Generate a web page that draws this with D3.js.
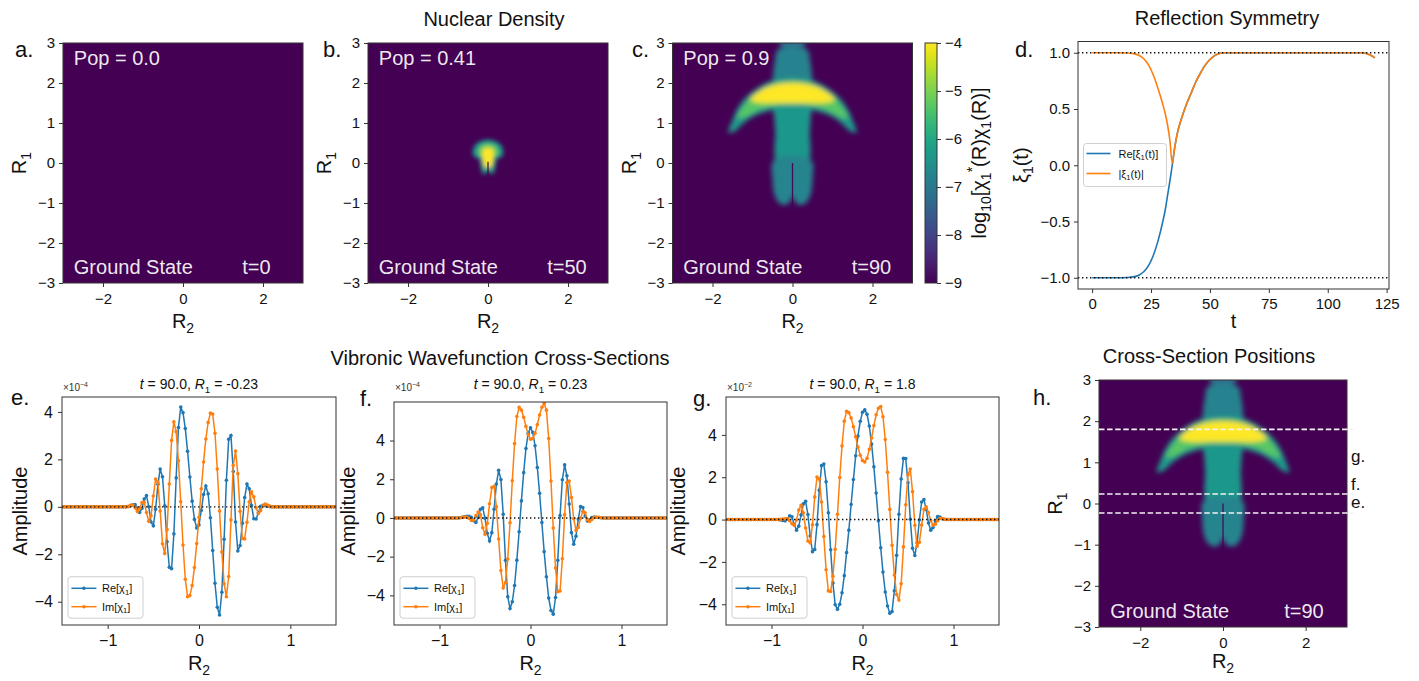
<!DOCTYPE html>
<html>
<head>
<meta charset="utf-8">
<script src="https://cdn.jsdelivr.net/npm/d3@7"></script>
<style>
  body { margin: 0; background: #fff; }
  text { font-family: "Liberation Sans", Arial, Helvetica, sans-serif; }
</style>
</head>
<body>
<svg id="fig" width="1419" height="681"></svg>
<script>
// ---------- values ----------

// d. reflection symmetry xi_1(t)
const tD    = [0, 5, 10, 15, 18, 20, 22, 24, 26, 28, 30, 31, 32, 33, 34, 35, 36, 38, 40, 42,
               44, 46, 48, 50, 52, 54, 56, 60, 70, 80, 90, 100, 110, 114, 116, 118, 120];
const absXi = [1, 1, 1, 0.998, 0.99, 0.975, 0.945, 0.89, 0.8, 0.68, 0.54, 0.46, 0.36, 0.22, 0.02, 0.15, 0.27, 0.42, 0.54, 0.64,
               0.74, 0.82, 0.89, 0.94, 0.975, 0.993, 1, 1, 1, 1, 1, 1, 1, 1, 0.995, 0.98, 0.955];
const reXi  = [-1, -1, -1, -0.998, -0.99, -0.975, -0.945, -0.89, -0.8, -0.67, -0.5, -0.4, -0.27, -0.14, 0, 0.15, 0.27, 0.42, 0.54, 0.64,
               0.74, 0.82, 0.89, 0.94, 0.975, 0.993, 1, 1, 1, 1, 1, 1, 1, 1, 0.995, 0.98, 0.955];

// e-g. cross sections of chi_1 at t = 90, R2 from -1.5 to 1.5 every 0.025
const r2Grid = d3.range(121).map(i => +(-1.5 + i * 0.025).toFixed(3));
const reE = [
  0,0,0,0,0,0,0, 0,0,0,0,0,0,0, 0,0,0,0,0,0,0, 0,0,0,0,0,0,0,
  0, 0.01, 0.05, 0.09, 0.10, -0.05, -0.24, -0.07,
  0.33, 0.48, 0.01, -0.64, -0.80, -0.10, 0.95, 1.59,
  1.27, 0.04, -1.47, -2.55, -2.61, -1.14, 1.22, 3.34,
  4.21, 3.97, 3.30, 2.34, 1.26, 0.24, -0.53, -0.89,
  -0.76, -0.15, 0.52, 0.88, 0.55, -0.46, -1.84, -3.22,
  -4.23, -4.56, -3.60, -1.37, 1.12, 2.85, 3.01, 1.49,
  -0.64, -1.86, -1.63, -0.69, 0.39, 0.96, 0.76, 0.06,
  -0.50, -0.51, -0.25, 0.02, 0.07, 0.05, 0.03, 0.01,
  0,
  0,0,0,0,0,0,0, 0,0,0,0,0,0,0, 0,0,0,0,0,0,0, 0,0,0,0,0,0,0];
const imE = [
  0,0,0,0,0,0,0, 0,0,0,0,0,0,0, 0,0,0,0,0,0,0, 0,0,0,0,0,0,0,
  0, 0.02, 0.06, 0.08, -0.04, -0.20, -0.06, 0.18,
  0.19, -0.24, -0.61, -0.38, 0.46, 1.17, 1.04, -0.18,
  -1.56, -1.97, -0.96, 0.96, 2.80, 3.58, 3.17, 1.94,
  0.21, -1.61, -3.05, -3.79, -3.74, -3.32, -2.56, -1.55,
  -0.44, 0.76, 1.89, 2.86, 3.56, 3.95, 3.91, 3.10,
  1.59, -0.18, -1.90, -3.24, -3.79, -2.94, -0.55, 1.75,
  2.35, 1.40, -0.19, -1.33, -1.35, -0.65, 0.21, 0.63,
  0.42, -0.04, -0.28, -0.16, 0.04, 0.12, 0.08, 0.03,
  0,
  0,0,0,0,0,0,0, 0,0,0,0,0,0,0, 0,0,0,0,0,0,0, 0,0,0,0,0,0,0];
const reF = [
  0,0,0,0,0,0,0, 0,0,0,0,0,0,0, 0,0,0,0,0,0,0, 0,0,0,0,0,0,0,
  0, 0.01, 0.03, 0.06, 0.08, 0.09, 0.03, -0.14,
  -0.23, 0.02, 0.45, 0.52, -0.01, -0.79, -1.19, -0.76,
  0.45, 1.75, 2.46, 1.98, 0.19, -2.19, -4.07, -4.68,
  -4.33, -3.49, -2.18, -0.71, 0.88, 2.34, 3.59, 4.38,
  4.66, 4.42, 3.73, 2.61, 1.27, -0.24, -1.74, -3.04,
  -4.14, -4.78, -4.97, -4.11, -2.19, 0.13, 1.97, 2.74,
  2.18, 0.72, -0.76, -1.36, -0.94, -0.06, 0.59, 0.54,
  0.10, -0.16, -0.09, 0.02, 0.05, 0.04, 0.02, 0.01,
  0,
  0,0,0,0,0,0,0, 0,0,0,0,0,0,0, 0,0,0,0,0,0,0, 0,0,0,0,0,0,0];
const imF = [
  0,0,0,0,0,0,0, 0,0,0,0,0,0,0, 0,0,0,0,0,0,0, 0,0,0,0,0,0,0,
  0, 0.01, 0.03, 0.04, 0.05, -0.02, -0.13, -0.10,
  0.12, 0.31, 0.17, -0.51, -0.84, -0.29, 0.73, 1.57,
  1.63, 0.58, -1.09, -2.72, -3.61, -3.34, -2.12, -0.25,
  1.92, 3.84, 5.24, 5.71, 5.57, 5.20, 4.73, 4.30,
  4.07, 4.10, 4.38, 4.82, 5.32, 5.72, 5.91, 5.57,
  4.10, 1.91, -0.52, -2.59, -3.81, -3.77, -2.11, 0.17,
  1.83, 1.91, 1.06, -0.04, -0.65, -0.49, -0.02, 0.35,
  0.27, -0.09, -0.18, -0.08, 0.03, 0.04, 0.03, 0.01,
  0,
  0,0,0,0,0,0,0, 0,0,0,0,0,0,0, 0,0,0,0,0,0,0, 0,0,0,0,0,0,0];
const reG = [
  0,0,0,0,0,0, 0,0,0,0,0,0, 0,0,0,0,0,0, 0,0,0,0,0,0,
  -0.02, -0.04, -0.06, 0.03, 0.18, 0.13, -0.24, -0.50,
  -0.31, 0.22, 0.74, 0.86, 0.24, -0.78, -1.52, -1.41,
  -0.24, 1.39, 2.55, 2.62, 1.79, 0.32, -1.43, -3.00,
  -4.02, -4.24, -4.00, -3.46, -2.65, -1.56, -0.50, 0.71,
  1.89, 3.01, 3.95, 4.64, 5.07, 5.19, 4.97, 4.42,
  3.57, 2.49, 1.25, -0.06, -1.33, -2.48, -3.42, -4.08,
  -4.43, -4.34, -3.36, -1.69, 0.25, 1.92, 2.89, 2.88,
  1.74, 0.02, -1.36, -1.70, -1.09, -0.02, 0.83, 0.94,
  0.48, -0.16, -0.50, -0.38, -0.06, 0.14, 0.12, 0.04,
  0,
  0,0,0,0,0,0, 0,0,0,0,0,0, 0,0,0,0,0,0, 0,0,0,0,0,0];
const imG = [
  0,0,0,0,0,0, 0,0,0,0,0,0, 0,0,0,0,0,0, 0,0,0,0,0,0,
  0.01, 0.03, 0.04, 0.05, -0.05, -0.20, -0.27, -0.02,
  0.45, 0.67, 0.32, -0.40, -1.01, -1.10, -0.25, 1.07,
  2.01, 1.91, 0.83, -0.80, -2.37, -3.37, -3.40, -2.68,
  -1.40, 0.25, 1.99, 3.48, 4.65, 5.11, 5.05, 4.80,
  4.39, 3.91, 3.43, 3.04, 2.79, 2.72, 2.90, 3.32,
  3.85, 4.44, 4.95, 5.26, 5.34, 4.86, 3.78, 2.23,
  0.48, -1.21, -2.62, -3.54, -3.80, -3.03, -1.29, 0.70,
  2.12, 2.39, 1.32, -0.27, -1.26, -1.07, -0.26, 0.48,
  0.60, 0.33, -0.05, -0.26, -0.22, -0.05, 0.05, 0.05,
  0.02,
  0,0,0,0,0,0, 0,0,0,0,0,0, 0,0,0,0,0,0, 0,0,0,0,0,0];

// a-c, h. log10 density, outlines in (R2, R1) with the level inside each
const dome50      = [[-0.38,0.22],[-0.33,0.44],[-0.17,0.55],[0,0.58],[0.17,0.55],[0.33,0.44],[0.38,0.22],[0.26,0.11],[0,0.09],[-0.26,0.11]];
const domeCore50  = [[-0.26,0.25],[-0.19,0.41],[0,0.48],[0.19,0.41],[0.26,0.25],[0.15,0.15],[-0.15,0.15]];
const legs50      = [[-0.17,0.15],[0.17,0.15],[0.18,-0.1],[0.11,-0.28],[0.02,-0.22],[-0.02,-0.22],[-0.11,-0.28],[-0.18,-0.1]];
const core50      = [[-0.12,0.35],[0.12,0.35],[0.13,0.1],[0.09,-0.07],[0,-0.11],[-0.09,-0.07],[-0.13,0.1]];
const layers50 = [
  { level: -6.3, pts: dome50 },
  { level: -6.1, pts: legs50 },
  { level: -5.2, pts: domeCore50 },
  { level: -4.0, pts: core50 }
];
const split50 = [[0.03, -0.33]];

const cap90       = [[-0.3,3.12],[0.3,3.12],[0.3,2.93],[-0.3,2.93]];
const colTop90    = [[-0.36,2.84],[0.36,2.84],[0.44,2.55],[0.48,2.25],[0.46,1.9],[-0.46,1.9],[-0.48,2.25],[-0.44,2.55]];
const colLow90    = [[-0.45,1.5],[0.45,1.5],[0.45,1.1],[0.43,0.7],[0.45,0.35],[0.4,0.05],[-0.4,0.05],[-0.45,0.35],[-0.43,0.7],[-0.45,1.1]];
const legL90      = [[-0.03,0.15],[-0.03,-0.9],[-0.15,-1.04],[-0.32,-1.01],[-0.45,-0.8],[-0.5,-0.4],[-0.48,0.05]];
const legR90      = [[0.03,0.15],[0.48,0.05],[0.5,-0.4],[0.45,-0.8],[0.32,-1.01],[0.15,-1.04],[0.03,-0.9]];
const arcEdge90   = [[-1.6,0.76],[-1.52,1.02],[-1.36,1.38],[-1.1,1.7],[-0.72,1.97],[-0.36,2.1],[0,2.13],[0.36,2.1],[0.72,1.97],
                     [1.1,1.7],[1.36,1.38],[1.52,1.02],[1.6,0.76],[1.44,0.8],[1.22,1.0],[0.95,1.18],[0.6,1.3],[0.3,1.36],
                     [0,1.37],[-0.3,1.36],[-0.6,1.3],[-0.95,1.18],[-1.22,1.0],[-1.44,0.8]];
const arcMid90    = [[-1.38,1.12],[-1.2,1.45],[-0.9,1.76],[-0.46,1.98],[0,2.04],[0.46,1.98],[0.9,1.76],[1.2,1.45],[1.38,1.12],
                     [1.15,1.17],[0.82,1.34],[0.4,1.44],[0,1.46],[-0.4,1.44],[-0.82,1.34],[-1.15,1.17]];
const arcCore90   = [[-1.05,1.58],[-0.78,1.82],[-0.4,1.96],[0,2.0],[0.4,1.96],[0.78,1.82],[1.05,1.58],[0.78,1.5],[0.4,1.5],
                     [0,1.5],[-0.4,1.5],[-0.78,1.5]];
const layers90 = [
  { level: -7.2, pts: cap90 },
  { level: -6.8, pts: colTop90 },
  { level: -6.35, pts: colLow90 },
  { level: -6.75, pts: legL90 },
  { level: -6.75, pts: legR90 },
  { level: -6.3, pts: arcEdge90 },
  { level: -5.3, pts: arcMid90 },
  { level: -4.0, pts: arcCore90 }
];
const split90 = [[0.0, -1.1]];

const popVals = ["0.0", "0.41", "0.9"];
const snapTimes = [0, 50, 90];
const cbTicks = [-9, -8, -7, -6, -5, -4];
const sliceR1 = [-0.23, 0.23, 1.8];
const sliceTags = ["e.", "f.", "g."];

// ---------- drawing ----------
const FONT = '"Liberation Sans", Arial, Helvetica, sans-serif';
const BLUE = "#1f77b4", ORANGE = "#ff7f0e";
const svg = d3.select("#fig");
const defs = svg.append("defs");
const cmap = d3.scaleSequential(d3.interpolateViridis).domain([-9, -4]).clamp(true);

defs.append("filter").attr("id", "soft")
  .attr("x", "-50%").attr("y", "-50%").attr("width", "200%").attr("height", "200%")
  .append("feGaussianBlur").attr("stdDeviation", 2.8);
defs.append("filter").attr("id", "softB")
  .attr("x", "-60%").attr("y", "-60%").attr("width", "220%").attr("height", "220%")
  .append("feGaussianBlur").attr("stdDeviation", 2.0);

function label(px, py, parts, fs, opt = {}) {
  const t = svg.append("text")
    .attr("transform", `translate(${px},${py})` + (opt.rotate ? ` rotate(${opt.rotate})` : ""))
    .attr("text-anchor", opt.anchor || "start")
    .attr("font-size", fs)
    .attr("fill", opt.fill || "#111");
  if (opt.opacity) t.attr("fill-opacity", opt.opacity);
  if (typeof parts === "string") parts = [[parts]];
  let off = 0;
  parts.forEach(([s, m]) => {
    const target = m === "sub" ? 0.25 * fs : m === "sup" ? -0.45 * fs : 0;
    const size = (m === "sub" || m === "sup") ? 0.7 * fs : fs;
    t.append("tspan").attr("dy", (target - off).toFixed(2)).attr("font-size", size)
      .attr("font-style", m === "i" ? "italic" : null).text(s);
    off = target;
  });
  return t;
}

function styleAxis(ax, fs) {
  ax.attr("font-family", FONT).attr("font-size", fs);
  ax.select(".domain").remove();
  ax.selectAll(".tick line").attr("stroke", "#333");
  ax.selectAll(".tick text").attr("fill", "#111");
}
function bottomAxis(scale, yPos, vals, fmt, fs, pad) {
  const ax = svg.append("g").attr("transform", `translate(0,${yPos})`)
    .call(d3.axisBottom(scale).tickValues(vals).tickFormat(fmt).tickSize(4).tickPadding(pad));
  styleAxis(ax, fs);
}
function leftAxis(scale, xPos, vals, fmt, fs, pad) {
  const ax = svg.append("g").attr("transform", `translate(${xPos},0)`)
    .call(d3.axisLeft(scale).tickValues(vals).tickFormat(fmt).tickSize(4).tickPadding(pad));
  styleAxis(ax, fs);
}
function frame(x0, y0, x1, y1) {
  svg.append("rect").attr("x", x0).attr("y", y0).attr("width", x1 - x0).attr("height", y1 - y0)
    .attr("fill", "none").attr("stroke", "#333").attr("stroke-width", 1);
}
function clipRect(id, x0, y0, x1, y1) {
  defs.append("clipPath").attr("id", id).append("rect")
    .attr("x", x0).attr("y", y0).attr("width", x1 - x0).attr("height", y1 - y0);
  return `url(#${id})`;
}

// density panels
function drawHeat(p) {
  const x = d3.scaleLinear().domain([-3, 3]).range([p.x0, p.x1]);
  const y = d3.scaleLinear().domain([-3, 3]).range([p.y1, p.y0]);
  const g = svg.append("g").attr("clip-path", clipRect("clip-" + p.id, p.x0, p.y0, p.x1, p.y1));
  g.append("rect").attr("x", p.x0).attr("y", p.y0)
    .attr("width", p.x1 - p.x0).attr("height", p.y1 - p.y0).attr("fill", cmap(-9));

  const outline = d3.line().x(d => x(d[0])).y(d => y(d[1]))
    .curve(d3.curveCatmullRomClosed.alpha(0.5));
  g.append("g").attr("filter", `url(#${p.blur})`)
    .selectAll("path").data(p.layers).join("path")
    .attr("d", d => outline(d.pts))
    .attr("fill", d => cmap(d.level));

  g.selectAll(".split").data(p.splits).join("line")
    .attr("x1", x(0)).attr("x2", x(0))
    .attr("y1", d => y(d[0])).attr("y2", d => y(d[1]))
    .attr("stroke", cmap(-9)).attr("stroke-width", 1.3).attr("stroke-opacity", 0.9);

  frame(p.x0, p.y0, p.x1, p.y1);
  bottomAxis(x, p.y1, [-2, 0, 2], d3.format("d"), 15, 6);
  leftAxis(y, p.x0, [-3, -2, -1, 0, 1, 2, 3], d3.format("d"), 15, 4);
  label((p.x0 + p.x1) / 2, p.y1 + p.xlabOff, [["R"], ["2", "sub"]], 20, { anchor: "middle" });
  label(p.x0 - 37, (p.y0 + p.y1) / 2, [["R"], ["1", "sub"]], 20, { anchor: "middle", rotate: -90 });

  if (p.pop !== null) label(x(-2.73), y(2.45), "Pop = " + p.pop, 20, { fill: "#fff", opacity: 0.93 });
  label(x(-2.73), y(-2.77), "Ground State", 20, { fill: "#fff", opacity: 0.93 });
  label(x(1.48), y(-2.77), "t=" + p.time, 20, { fill: "#fff", opacity: 0.93 });
  return { x, y };
}

const heatA = drawHeat({ id: "a", x0: 63, x1: 303, y0: 43, y1: 283, layers: [], splits: [], blur: "soft",
  pop: popVals[0], time: snapTimes[0], xlabOff: 45 });
const heatB = drawHeat({ id: "b", x0: 368, x1: 608, y0: 43, y1: 283, layers: layers50, splits: split50, blur: "softB",
  pop: popVals[1], time: snapTimes[1], xlabOff: 45 });
const heatC = drawHeat({ id: "c", x0: 672.5, x1: 912.5, y0: 43, y1: 283, layers: layers90, splits: split90, blur: "soft",
  pop: popVals[2], time: snapTimes[2], xlabOff: 45 });
const heatH = drawHeat({ id: "h", x0: 1099, x1: 1347, y0: 380, y1: 627, layers: layers90, splits: split90, blur: "soft",
  pop: null, time: snapTimes[2], xlabOff: 41 });

// colorbar
const grad = defs.append("linearGradient").attr("id", "viridisGrad")
  .attr("x1", 0).attr("y1", 1).attr("x2", 0).attr("y2", 0);
d3.range(0, 1.0001, 0.05).forEach(t => grad.append("stop").attr("offset", t).attr("stop-color", d3.interpolateViridis(t)));
const cbY = d3.scaleLinear().domain([-9, -4]).range([283, 43]);
svg.append("rect").attr("x", 925).attr("y", 43).attr("width", 12).attr("height", 240)
  .attr("fill", "url(#viridisGrad)").attr("stroke", "#333").attr("stroke-width", 1);
const cbAx = svg.append("g").attr("transform", "translate(937,0)")
  .call(d3.axisRight(cbY).tickValues(cbTicks).tickFormat(d3.format("d")).tickSize(4).tickPadding(4));
styleAxis(cbAx, 15);
label(986, 163, [["log"], ["10", "sub"], ["[χ"], ["1", "sub"], ["*", "sup"], ["(R)χ"], ["1", "sub"], ["(R)]"]], 20,
  { anchor: "middle", rotate: -90 });

// h. cut positions
sliceR1.forEach(r => {
  svg.append("line")
    .attr("x1", heatH.x(-3)).attr("x2", heatH.x(3.15))
    .attr("y1", heatH.y(r)).attr("y2", heatH.y(r))
    .attr("stroke", "#f2f2f2").attr("stroke-width", 1.6).attr("stroke-dasharray", "5.5,2.6");
});
const tagY = { "e.": 508, "f.": 490, "g.": 462 };
sliceTags.forEach(s => label(1351, tagY[s], s, 17));

// d. reflection symmetry
{
  const x0 = 1078, x1 = 1389, y0 = 41.5, y1 = 289;
  const x = d3.scaleLinear().domain([-6, 126]).range([x0, x1]);
  const y = d3.scaleLinear().domain([-1.1, 1.1]).range([y1, y0]);
  const g = svg.append("g").attr("clip-path", clipRect("clip-d", x0, y0, x1, y1));
  const line = d3.line().x((d, i) => x(tD[i])).y(d => y(d)).curve(d3.curveMonotoneX);
  g.append("path").datum(reXi).attr("d", line).attr("fill", "none").attr("stroke", BLUE).attr("stroke-width", 1.6);
  g.append("path").datum(absXi).attr("d", line).attr("fill", "none").attr("stroke", ORANGE).attr("stroke-width", 1.6);
  [1, -1].forEach(v => g.append("line").attr("x1", x0).attr("x2", x1).attr("y1", y(v)).attr("y2", y(v))
    .attr("stroke", "#111").attr("stroke-width", 1.4).attr("stroke-dasharray", "1.4,2.6"));
  frame(x0, y0, x1, y1);
  bottomAxis(x, y1, [0, 25, 50, 75, 100, 125], d3.format("d"), 15, 5);
  leftAxis(y, x0, [-1, -0.5, 0, 0.5, 1], d3.format(".1f"), 15, 4);
  label((x0 + x1) / 2, 328, "t", 20, { anchor: "middle" });
  label(1028, (y0 + y1) / 2, [["ξ"], ["1", "sub"], ["(t)"]], 20, { anchor: "middle", rotate: -90 });

  const lx = 1083.5, ly = 143.5;
  svg.append("rect").attr("x", lx).attr("y", ly).attr("width", 83).attr("height", 43).attr("rx", 3)
    .attr("fill", "#fff").attr("fill-opacity", 0.85).attr("stroke", "#d0d0d0");
  [[BLUE, [["Re[ξ"], ["1", "sub"], ["(t)]"]]], [ORANGE, [["|ξ"], ["1", "sub"], ["(t)|"]]]].forEach(([c, txt], i) => {
    const yy = ly + 10 + i * 20;
    svg.append("line").attr("x1", lx + 3).attr("x2", lx + 27).attr("y1", yy).attr("y2", yy)
      .attr("stroke", c).attr("stroke-width", 1.6);
    label(lx + 35, yy + 4, txt, 11);
  });
}

// e-g. wavefunction cross sections
function drawCut(p) {
  const x = d3.scaleLinear().domain([-1.5, 1.5]).range([p.x0, p.x1]);
  const y = d3.scaleLinear().domain(p.yDomain).range([p.y1, p.y0]);
  const g = svg.append("g").attr("clip-path", clipRect("clip-" + p.id, p.x0, p.y0, p.x1, p.y1));
  const line = d3.line().x((d, i) => x(r2Grid[i])).y(d => y(d));
  [[p.re, BLUE], [p.im, ORANGE]].forEach(([vals, col]) => {
    g.append("path").datum(vals).attr("d", line).attr("fill", "none").attr("stroke", col).attr("stroke-width", 1.5);
    g.append("g").selectAll("circle").data(vals).join("circle")
      .attr("cx", (d, i) => x(r2Grid[i])).attr("cy", d => y(d)).attr("r", 1.8).attr("fill", col);
  });
  g.append("line").attr("x1", p.x0).attr("x2", p.x1).attr("y1", y(0)).attr("y2", y(0))
    .attr("stroke", "#111").attr("stroke-width", 1.4).attr("stroke-dasharray", "1.4,2.6");
  frame(p.x0, p.y0, p.x1, p.y1);
  bottomAxis(x, p.y1, [-1, 0, 1], d3.format("d"), 16, 6);
  leftAxis(y, p.x0, [-4, -2, 0, 2, 4], d3.format("d"), 16, 5);
  label((p.x0 + p.x1) / 2, p.y1 + 45, [["R"], ["2", "sub"]], 20, { anchor: "middle" });
  label(p.ylabX, 511, "Amplitude", 20, { anchor: "middle", rotate: -90 });
  label((p.x0 + p.x1) / 2, 389, [["t", "i"], [" = 90.0, "], ["R", "i"], ["1", "sub"], [" = " + p.r1]], 14, { anchor: "middle" });
  label(p.x0 + 1, 391, [["×10"], ["−" + p.exp, "sup"]], 10, { fill: "#333" });

  const lx = p.x0 + 6, ly = p.y1 - 48.3;
  svg.append("rect").attr("x", lx).attr("y", ly).attr("width", 75).attr("height", 41.5).attr("rx", 3)
    .attr("fill", "#fff").attr("fill-opacity", 0.85).attr("stroke", "#d0d0d0");
  [[BLUE, "Re["], [ORANGE, "Im["]].forEach(([c, s], i) => {
    const yy = ly + 11.6 + i * 18.4;
    svg.append("line").attr("x1", lx + 3.4).attr("x2", lx + 28.4).attr("y1", yy).attr("y2", yy)
      .attr("stroke", c).attr("stroke-width", 1.5);
    svg.append("circle").attr("cx", lx + 15.9).attr("cy", yy).attr("r", 1.8).attr("fill", c);
    label(lx + 34, yy + 4, [[s + "χ"], ["1", "sub"], ["]"]], 11);
  });
}

drawCut({ id: "e", x0: 62, x1: 336, y0: 397, y1: 625, yDomain: [-4.98, 4.63], re: reE, im: imE,
  r1: sliceR1[0].toString(), exp: 4, ylabX: 27 });
drawCut({ id: "f", x0: 394, x1: 667, y0: 402, y1: 625, yDomain: [-5.53, 5.99], re: reF, im: imF,
  r1: sliceR1[1].toString(), exp: 4, ylabX: 355 });
drawCut({ id: "g", x0: 726, x1: 999, y0: 397, y1: 625, yDomain: [-4.98, 5.79], re: reG, im: imG,
  r1: sliceR1[2].toString(), exp: 2, ylabX: 685 });

// titles and panel letters
label(494, 26, "Nuclear Density", 20, { anchor: "middle" });
label(1227, 25, "Reflection Symmetry", 20, { anchor: "middle" });
label(500, 365, "Vibronic Wavefunction Cross-Sections", 20, { anchor: "middle" });
label(1209, 363, "Cross-Section Positions", 20, { anchor: "middle" });
[["a.", 15, 57], ["b.", 323, 57], ["c.", 632, 57], ["d.", 1015, 57],
 ["e.", 11, 405], ["f.", 360, 406], ["g.", 693, 406], ["h.", 1033, 405]]
  .forEach(([s, px, py]) => label(px, py, s, 22));
</script>
</body>
</html>
